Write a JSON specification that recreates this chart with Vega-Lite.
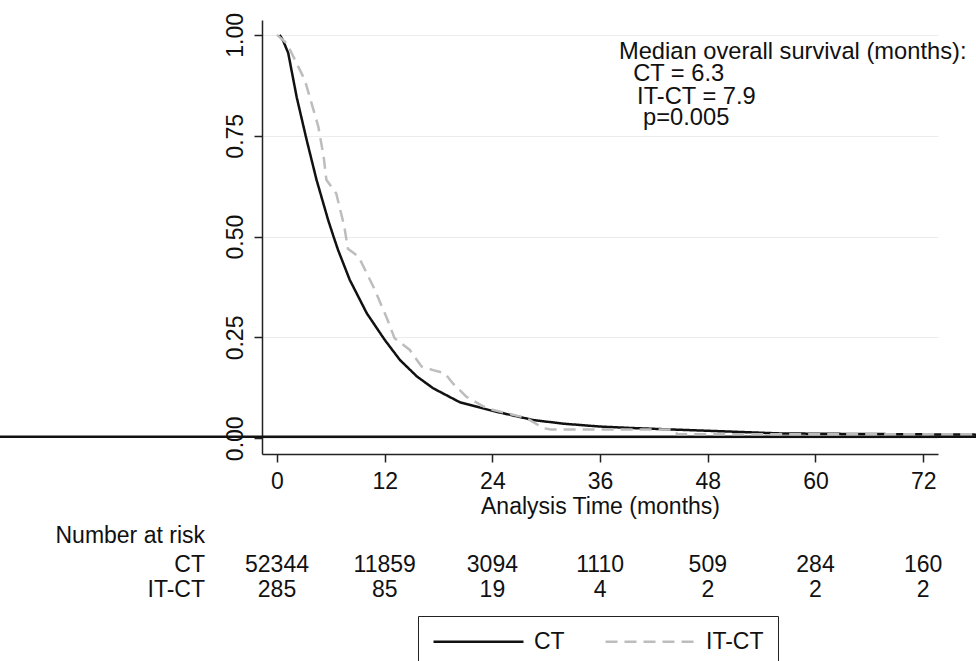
{
  "$schema": "https://vega.github.io/schema/vega-lite/v6.json",
  "width": 676,
  "height": 434,
  "autosize": {"type": "none"},
  "padding": {"left": 262, "top": 20, "right": 38, "bottom": 207},
  "background": "white",
  "config": {
    "view": {"stroke": null},
    "font": "Liberation Sans",
    "text": {"font": "Liberation Sans", "fontSize": 23, "color": "#111111"},
    "axis": {
      "labelFont": "Liberation Sans",
      "titleFont": "Liberation Sans",
      "labelColor": "#111111",
      "titleColor": "#111111",
      "domainColor": "#222222",
      "tickColor": "#222222",
      "domainWidth": 1.5,
      "tickWidth": 1.5,
      "tickSize": 8,
      "labelFontSize": 23,
      "titleFontSize": 23,
      "titleFontWeight": "normal"
    },
    "legend": {"labelFont": "Liberation Sans"}
  },
  "datasets": {
    "curves": [
      {"group": "CT", "time": 0.3, "surv": 1.0},
      {"group": "CT", "time": 0.7, "surv": 0.985},
      {"group": "CT", "time": 1.25, "surv": 0.955},
      {"group": "CT", "time": 2.2, "surv": 0.845},
      {"group": "CT", "time": 3.3, "surv": 0.74},
      {"group": "CT", "time": 4.4, "surv": 0.641},
      {"group": "CT", "time": 5.7, "surv": 0.541},
      {"group": "CT", "time": 6.3, "surv": 0.5},
      {"group": "CT", "time": 6.8, "surv": 0.467},
      {"group": "CT", "time": 8.1, "surv": 0.393},
      {"group": "CT", "time": 10.0, "surv": 0.31},
      {"group": "CT", "time": 12.0, "surv": 0.244},
      {"group": "CT", "time": 13.7, "surv": 0.194},
      {"group": "CT", "time": 15.6, "surv": 0.153},
      {"group": "CT", "time": 17.4, "surv": 0.124},
      {"group": "CT", "time": 20.4, "surv": 0.089},
      {"group": "CT", "time": 24.0, "surv": 0.068},
      {"group": "CT", "time": 28.6, "surv": 0.045},
      {"group": "CT", "time": 32.0, "surv": 0.036},
      {"group": "CT", "time": 36.0, "surv": 0.029},
      {"group": "CT", "time": 40.0, "surv": 0.025},
      {"group": "CT", "time": 45.0, "surv": 0.021},
      {"group": "CT", "time": 50.0, "surv": 0.017},
      {"group": "CT", "time": 56.0, "surv": 0.012},
      {"group": "CT", "time": 62.0, "surv": 0.011},
      {"group": "CT", "time": 70.0, "surv": 0.01},
      {"group": "CT", "time": 78.0, "surv": 0.009},
      {"group": "IT-CT", "time": 0.0, "surv": 1.0},
      {"group": "IT-CT", "time": 1.1, "surv": 0.979},
      {"group": "IT-CT", "time": 3.1, "surv": 0.888},
      {"group": "IT-CT", "time": 4.6, "surv": 0.773},
      {"group": "IT-CT", "time": 5.2, "surv": 0.698},
      {"group": "IT-CT", "time": 5.5, "surv": 0.641},
      {"group": "IT-CT", "time": 6.6, "surv": 0.607},
      {"group": "IT-CT", "time": 7.5, "surv": 0.525},
      {"group": "IT-CT", "time": 7.9, "surv": 0.47},
      {"group": "IT-CT", "time": 9.1, "surv": 0.45},
      {"group": "IT-CT", "time": 10.9, "surv": 0.368},
      {"group": "IT-CT", "time": 12.2, "surv": 0.3},
      {"group": "IT-CT", "time": 13.1, "surv": 0.248},
      {"group": "IT-CT", "time": 14.8, "surv": 0.219},
      {"group": "IT-CT", "time": 16.1, "surv": 0.178},
      {"group": "IT-CT", "time": 17.4, "surv": 0.169},
      {"group": "IT-CT", "time": 18.7, "surv": 0.161},
      {"group": "IT-CT", "time": 19.6, "surv": 0.136},
      {"group": "IT-CT", "time": 21.1, "surv": 0.103},
      {"group": "IT-CT", "time": 23.4, "surv": 0.074},
      {"group": "IT-CT", "time": 25.6, "surv": 0.062},
      {"group": "IT-CT", "time": 27.8, "surv": 0.05},
      {"group": "IT-CT", "time": 29.7, "surv": 0.025},
      {"group": "IT-CT", "time": 30.5, "surv": 0.022},
      {"group": "IT-CT", "time": 44.2, "surv": 0.022},
      {"group": "IT-CT", "time": 44.6, "surv": 0.01},
      {"group": "IT-CT", "time": 78.0, "surv": 0.01}
    ],
    "risk": [
      {"group": "CT", "time": 0, "n": 52344},
      {"group": "CT", "time": 12, "n": 11859},
      {"group": "CT", "time": 24, "n": 3094},
      {"group": "CT", "time": 36, "n": 1110},
      {"group": "CT", "time": 48, "n": 509},
      {"group": "CT", "time": 60, "n": 284},
      {"group": "CT", "time": 72, "n": 160},
      {"group": "IT-CT", "time": 0, "n": 285},
      {"group": "IT-CT", "time": 12, "n": 85},
      {"group": "IT-CT", "time": 24, "n": 19},
      {"group": "IT-CT", "time": 36, "n": 4},
      {"group": "IT-CT", "time": 48, "n": 2},
      {"group": "IT-CT", "time": 60, "n": 2},
      {"group": "IT-CT", "time": 72, "n": 2}
    ]
  },
  "layer": [
    {
      "data": {"values": [{"baseline": "zero"}]},
      "mark": {"type": "rule", "clip": false, "color": "#111111", "strokeWidth": 2.5},
      "encoding": {
        "x": {"datum": -31},
        "x2": {"datum": 78},
        "y": {"datum": 0.004}
      }
    },
    {
      "data": {"name": "curves"},
      "mark": {"type": "line", "clip": false, "strokeWidth": 2.5, "interpolate": "linear"},
      "encoding": {
        "x": {
          "field": "time", "type": "quantitative",
          "scale": {"domain": [-1.672, 73.65], "nice": false, "zero": false},
          "axis": {
            "values": [0, 12, 24, 36, 48, 60, 72],
            "title": "Analysis Time (months)",
            "labelPadding": 8,
            "titlePadding": 2,
            "grid": false
          }
        },
        "y": {
          "field": "surv", "type": "quantitative",
          "scale": {"domain": [-0.039, 1.037], "nice": false, "zero": false},
          "axis": {
            "values": [0, 0.25, 0.5, 0.75, 1],
            "format": ".2f",
            "title": null,
            "labelAngle": 270,
            "labelAlign": "center",
            "labelBaseline": "alphabetic",
            "labelPadding": 12,
            "grid": true,
            "gridColor": "#ececec",
            "gridWidth": 1
          }
        },
        "color": {
          "field": "group", "type": "nominal",
          "scale": {"domain": ["CT", "IT-CT"], "range": ["#111111", "#bdbdbd"]},
          "legend": {
            "orient": "none", "legendX": 156, "legendY": 596,
            "direction": "horizontal", "title": null,
            "symbolType": "M-2,0H16", "symbolSize": 100, "symbolStrokeWidth": 2.5,
            "symbolFillColor": "transparent",
            "labelFontSize": 23, "labelColor": "#111111", "labelOffset": 79,
            "columnPadding": 35, "padding": 14,
            "strokeColor": "#222222", "fillColor": "white"
          }
        },
        "strokeDash": {
          "field": "group", "type": "nominal",
          "scale": {"domain": ["CT", "IT-CT"], "range": [[1, 0], [12, 7]]},
          "legend": {
            "orient": "none", "legendX": 156, "legendY": 596,
            "direction": "horizontal", "title": null,
            "symbolType": "M-2,0H16", "symbolSize": 100, "symbolStrokeWidth": 2.5,
            "symbolFillColor": "transparent",
            "labelFontSize": 23, "labelColor": "#111111", "labelOffset": 79,
            "columnPadding": 35, "padding": 14,
            "strokeColor": "#222222", "fillColor": "white"
          }
        }
      }
    },
    {
      "data": {"values": [{"label": "Median overall survival (months):"}]},
      "mark": {"type": "text", "clip": false, "align": "left", "baseline": "alphabetic", "fontSize": 23.7},
      "encoding": {"x": {"datum": 38.1}, "y": {"datum": 0.9405}, "text": {"field": "label"}}
    },
    {
      "data": {"values": [{"label": "CT = 6.3"}]},
      "mark": {"type": "text", "clip": false, "align": "left", "baseline": "alphabetic", "fontSize": 23.7},
      "encoding": {"x": {"datum": 39.68}, "y": {"datum": 0.886}, "text": {"field": "label"}}
    },
    {
      "data": {"values": [{"label": "IT-CT = 7.9"}]},
      "mark": {"type": "text", "clip": false, "align": "left", "baseline": "alphabetic", "fontSize": 23.7},
      "encoding": {"x": {"datum": 40.12}, "y": {"datum": 0.829}, "text": {"field": "label"}}
    },
    {
      "data": {"values": [{"label": "p=0.005"}]},
      "mark": {"type": "text", "clip": false, "align": "left", "baseline": "alphabetic", "fontSize": 23.7},
      "encoding": {"x": {"datum": 40.79}, "y": {"datum": 0.777}, "text": {"field": "label"}}
    },
    {
      "data": {"values": [{"label": "Number at risk"}]},
      "mark": {"type": "text", "clip": false, "align": "right", "baseline": "alphabetic"},
      "encoding": {"x": {"datum": -8.02}, "y": {"datum": -0.2596}, "text": {"field": "label"}}
    },
    {
      "data": {"values": [{"label": "CT"}]},
      "mark": {"type": "text", "clip": false, "align": "right", "baseline": "alphabetic"},
      "encoding": {"x": {"datum": -8.02}, "y": {"datum": -0.332}, "text": {"field": "label"}}
    },
    {
      "data": {"values": [{"label": "IT-CT"}]},
      "mark": {"type": "text", "clip": false, "align": "right", "baseline": "alphabetic"},
      "encoding": {"x": {"datum": -8.02}, "y": {"datum": -0.394}, "text": {"field": "label"}}
    },
    {
      "data": {"name": "risk"},
      "transform": [{"filter": "datum.group === 'CT'"}],
      "mark": {"type": "text", "clip": false, "align": "center", "baseline": "alphabetic"},
      "encoding": {
        "x": {"field": "time", "type": "quantitative"},
        "y": {"datum": -0.332},
        "text": {"field": "n", "type": "quantitative", "format": "d"}
      }
    },
    {
      "data": {"name": "risk"},
      "transform": [{"filter": "datum.group === 'IT-CT'"}],
      "mark": {"type": "text", "clip": false, "align": "center", "baseline": "alphabetic"},
      "encoding": {
        "x": {"field": "time", "type": "quantitative"},
        "y": {"datum": -0.394},
        "text": {"field": "n", "type": "quantitative", "format": "d"}
      }
    }
  ]
}
